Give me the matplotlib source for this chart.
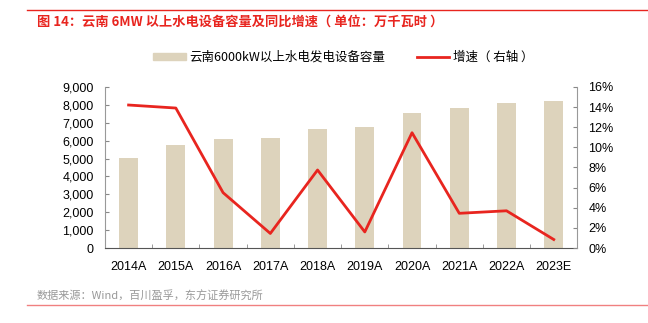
import matplotlib.pyplot as plt
from matplotlib.lines import Line2D
from matplotlib.ticker import FuncFormatter

plt.rcParams['font.family'] = ['Liberation Sans', 'Noto Sans CJK SC', 'DejaVu Sans']

years = ["2014A", "2015A", "2016A", "2017A", "2018A", "2019A", "2020A", "2021A", "2022A", "2023E"]
capacity = [5045, 5754, 6089, 6162, 6648, 6760, 7559, 7821, 8117, 8195]
growth = [14.2, 13.9, 5.5, 1.45, 7.75, 1.6, 11.45, 3.45, 3.7, 0.85]

bar_color = "#DDD3BC"
line_color = "#E8251F"
cjk = ['Noto Sans CJK SC', 'DejaVu Sans']

fig = plt.figure(figsize=(6.48, 3.23), dpi=100)
ax = fig.add_axes([0.162, 0.232, 0.729, 0.499])
x = range(len(years))
ax.bar(x, capacity, width=0.4, color=bar_color, zorder=1)
ax.set_xlim(-0.5, len(years) - 0.5)
ax.set_ylim(0, 9000)
ax.set_yticks(range(0, 9001, 1000))
ax.yaxis.set_major_formatter(FuncFormatter(lambda v, p: f"{int(v):,}"))
ax.set_xticks(list(x))
ax.set_xticklabels(years)
ax.set_xticks([i + 0.5 for i in range(len(years) - 1)], minor=True)
ax.tick_params(axis='x', which='major', length=0, pad=9, labelsize=9)
ax.tick_params(axis='x', which='minor', length=3, direction='in', color='#888888')
ax.tick_params(axis='y', length=3, direction='in', color='#888888', labelsize=9, pad=8)
for s in ['top', 'right']:
    ax.spines[s].set_visible(False)
ax.spines['left'].set_color('#999999')
ax.spines['bottom'].set_color('#555555')

ax2 = ax.twinx()
ax2.plot(list(x), growth, color=line_color, linewidth=2, zorder=3)
ax2.set_ylim(0, 16)
ax2.set_yticks(range(0, 17, 2))
ax2.yaxis.set_major_formatter(FuncFormatter(lambda v, p: f"{int(v)}%"))
ax2.tick_params(axis='y', length=3, direction='in', color='#888888', labelsize=9, pad=8)
for s in ['top', 'left', 'bottom']:
    ax2.spines[s].set_visible(False)
ax2.spines['right'].set_color('#999999')

handles = [plt.Rectangle((0, 0), 1, 1, color=bar_color),
           Line2D([0], [0], color=line_color, linewidth=2)]
leg = fig.legend(handles, ["云南6000kW以上水电发电设备容量", "增速（ 右轴 ）"],
                 loc='center', bbox_to_anchor=(0.53, 0.823), ncol=2, frameon=False,
                 prop={'family': cjk, 'size': 9}, handlelength=2.6, handleheight=0.5,
                 columnspacing=2.5, handletextpad=0.3)

fig.text(0.057, 0.932, "图 14：云南 6MW 以上水电设备容量及同比增速（ 单位：万千瓦时 ）",
         color="#E8251F", fontsize=9.5, family=cjk, fontweight='bold', va='center')
fig.add_artist(Line2D([0.042, 1.0], [0.969, 0.969], color="#E8251F", linewidth=1))
fig.text(0.056, 0.084, "数据来源：Wind，百川盈孚，东方证券研究所",
         color="#999999", fontsize=8, family=cjk, va='center')
fig.add_artist(Line2D([0.042, 1.0], [0.056, 0.056], color="#F08080", linewidth=1))

fig.savefig("out.png", dpi=100)
